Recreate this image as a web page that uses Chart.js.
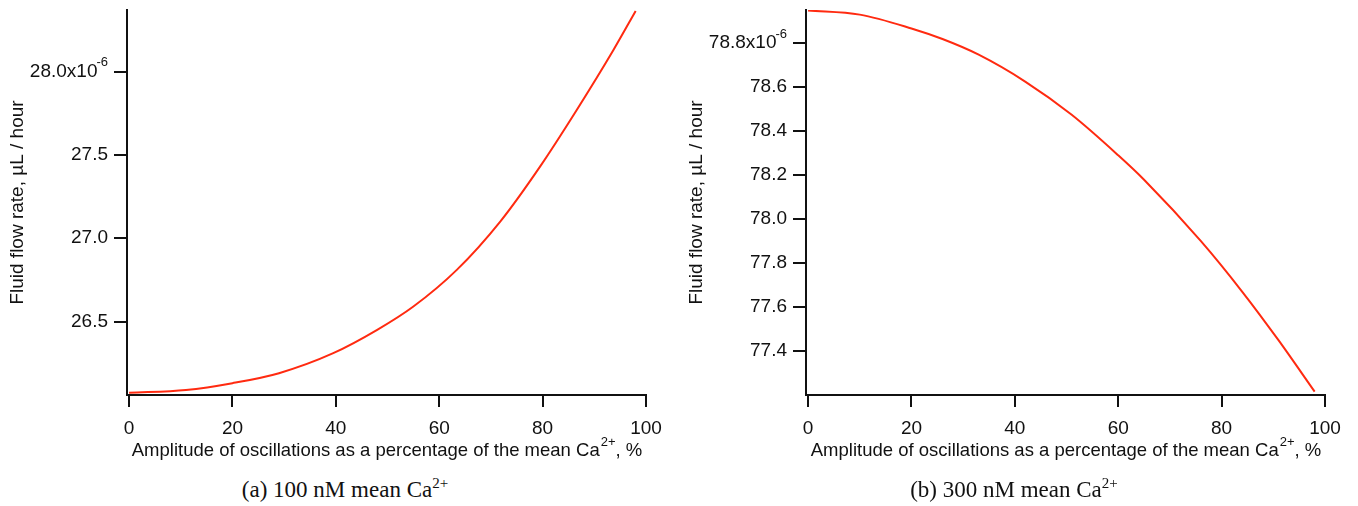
<!DOCTYPE html>
<html>
<head>
<meta charset="utf-8">
<script src="https://cdn.jsdelivr.net/npm/chart.js@4"></script>
<style>
  html, body { margin: 0; padding: 0; background: #fff; }
  body { width: 1358px; height: 506px; position: relative; overflow: hidden; }
  .panel { position: absolute; top: 0; width: 680px; height: 470px; }
  .caption {
    position: absolute; top: 476px; width: 680px; height: 28px; line-height: 28px;
    text-align: center; font-family: "Liberation Serif", serif; font-size: 23px; color: #111;
  }
  .caption sup { font-size: 15px; vertical-align: 9px; line-height: 0; }
</style>
</head>
<body>
<div class="panel" style="left:0"><canvas id="chartA" width="680" height="470"></canvas></div>
<div class="panel" style="left:679px"><canvas id="chartB" width="680" height="470"></canvas></div>
<div class="caption" style="left:5px">(a) 100 nM mean Ca<sup>2+</sup></div>
<div class="caption" style="left:674px">(b) 300 nM mean Ca<sup>2+</sup></div>

<script>
// ---- data ----
const xTicks = [0, 20, 40, 60, 80, 100];

// (a) 100 nM mean Ca2+
const ampA  = [0, 11, 20, 29, 39.5, 48, 55, 63.4, 71.8, 79.5, 86.6, 93.7, 98];
const flowA = [26.072, 26.089, 26.13, 26.19, 26.31, 26.45, 26.59, 26.81, 27.1, 27.43, 27.77, 28.13, 28.364];
const ticksA = [26.5, 27.0, 27.5, 28.0];

// (b) 300 nM mean Ca2+
const ampB  = [0, 10, 20, 26, 33, 42, 51, 60, 65, 76, 84, 91, 98];
const flowB = [78.948, 78.929, 78.866, 78.818, 78.747, 78.625, 78.474, 78.29, 78.179, 77.9, 77.67, 77.45, 77.216];
const ticksB = [77.4, 77.6, 77.8, 78.0, 78.2, 78.4, 78.6, 78.8];

// x title is drawn in three pieces so "2+" can be a real superscript
const xTitleParts = ['Amplitude of oscillations as a percentage of the mean Ca', '2+', ', %'];
const yTitle = 'Fluid flow rate, \u00B5L / hour';

const FONT = 'Liberation Sans, Arial, sans-serif';
const INK = '#111';
const RED = '#ff2a10';
const SIZE = 19;

// draws the "-6" exponent after the top tick label, and the x title
const extrasPlugin = {
  id: 'extras',
  afterDraw(chart) {
    const ctx = chart.ctx;
    const y = chart.scales.y;
    const x = chart.scales.x;
    ctx.save();
    ctx.fillStyle = INK;
    ctx.textBaseline = 'middle';

    const top = y.ticks[y.ticks.length - 1];
    const py = y.getPixelForValue(top.value);
    const xr = y.right - y.options.grid.tickLength - y.options.ticks.padding;
    ctx.font = '13px ' + FONT;
    ctx.textAlign = 'right';
    ctx.fillText('-6', xr, py - 9);

    // x title
    const big = '18.5px ' + FONT, small = '13px ' + FONT;
    ctx.textAlign = 'left';
    ctx.font = big;
    const w0 = ctx.measureText(xTitleParts[0]).width;
    const w2 = ctx.measureText(xTitleParts[2]).width;
    ctx.font = small;
    const w1 = ctx.measureText(xTitleParts[1]).width;
    const ty = x.bottom - 19;
    let tx = (chart.chartArea.left + chart.chartArea.right) / 2 - (w0 + w1 + w2) / 2;
    ctx.font = big;
    ctx.fillText(xTitleParts[0], tx, ty);
    ctx.font = small;
    ctx.fillText(xTitleParts[1], tx + w0 + 1, ty - 9);
    ctx.font = big;
    ctx.fillText(xTitleParts[2], tx + w0 + w1 + 1, ty);
    ctx.restore();
  }
};

function makeChart(id, xs, ys, yTicks, yMin, yMax) {
  const topVal = yTicks[yTicks.length - 1];
  return new Chart(document.getElementById(id), {
    type: 'line',
    data: {
      datasets: [{
        data: xs.map((x, i) => ({ x: x, y: ys[i] })),
        borderColor: RED,
        borderWidth: 2,
        pointRadius: 0,
        cubicInterpolationMode: 'monotone',
        fill: false
      }]
    },
    options: {
      responsive: false,
      animation: false,
      events: [],
      layout: { padding: { top: 10, right: 34, left: 0, bottom: 0 } },
      plugins: { legend: { display: false }, tooltip: { enabled: false } },
      scales: {
        x: {
          type: 'linear',
          min: -0.4,
          max: 100,
          afterBuildTicks: s => { s.ticks = xTicks.map(v => ({ value: v })); },
          afterFit: s => { s.height = 75; s.paddingLeft = 0; s.paddingRight = 0; },
          border: { display: true, color: INK, width: 2 },
          grid: { drawOnChartArea: false, drawTicks: true, tickLength: 12, color: INK, lineWidth: 2 },
          ticks: { color: INK, font: { family: FONT, size: SIZE }, padding: 10, maxRotation: 0 },
          title: { display: false }
        },
        y: {
          type: 'linear',
          min: yMin,
          max: yMax,
          afterBuildTicks: s => { s.ticks = yTicks.map(v => ({ value: v })); },
          afterFit: s => { s.width = 127; s.paddingTop = 0; s.paddingBottom = 0; },
          border: { display: true, color: INK, width: 2 },
          grid: { drawOnChartArea: false, drawTicks: true, tickLength: 13, color: INK, lineWidth: 2 },
          ticks: {
            color: INK, font: { family: FONT, size: SIZE }, padding: 6,
            callback: v => (v === topVal ? v.toFixed(1) + 'x10  ' : v.toFixed(1))
          },
          title: { display: true, text: yTitle, color: INK, font: { family: FONT, size: SIZE }, padding: { top: 6, bottom: 0 } }
        }
      }
    },
    plugins: [extrasPlugin]
  });
}

makeChart('chartA', ampA, flowA, ticksA, 26.059, 28.37);
makeChart('chartB', ampB, flowB, ticksB, 77.201, 78.95);
</script>
</body>
</html>
